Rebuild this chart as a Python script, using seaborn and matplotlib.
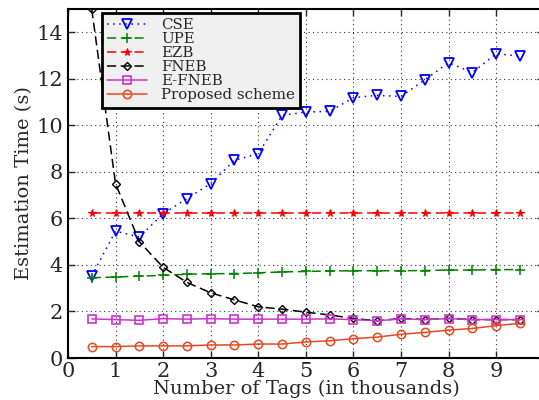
import matplotlib
matplotlib.use("Agg")
import matplotlib.pyplot as plt
import seaborn as sns
import pandas as pd

# ── Data ──────────────────────────────────────────────────────────────────────
tags = [0.5, 1.0, 1.5, 2.0, 2.5, 3.0, 3.5, 4.0, 4.5, 5.0,
        5.5, 6.0, 6.5, 7.0, 7.5, 8.0, 8.5, 9.0, 9.5]

cse = [3.53, 5.45, 5.2, 6.2, 6.85, 7.5, 8.5, 8.78, 10.43, 10.57,
       10.6, 11.19, 11.29, 11.24, 11.96, 12.69, 12.27, 13.08, 12.97]
upe = [3.45, 3.48, 3.52, 3.55, 3.6, 3.62, 3.63, 3.66, 3.7, 3.72,
       3.74, 3.75, 3.75, 3.75, 3.76, 3.78, 3.78, 3.8, 3.8]
ezb = [6.22] * 19
fneb = [15.0, 7.5, 5.0, 3.9, 3.25, 2.8, 2.5, 2.2, 2.1, 1.97,
        1.85, 1.7, 1.6, 1.7, 1.65, 1.7, 1.65, 1.65, 1.65]
efneb = [1.68, 1.65, 1.62, 1.69, 1.67, 1.69, 1.67, 1.67, 1.67, 1.67,
         1.68, 1.65, 1.6, 1.68, 1.65, 1.69, 1.65, 1.65, 1.65]
proposed = [0.49, 0.49, 0.52, 0.52, 0.52, 0.56, 0.56, 0.6, 0.6, 0.69,
            0.74, 0.83, 0.9, 1.02, 1.1, 1.2, 1.27, 1.39, 1.49]

series_names = ["CSE", "UPE", "EZB", "FNEB", "E-FNEB", "Proposed scheme"]
series_values = [cse, upe, ezb, fneb, efneb, proposed]

x_ticks = list(range(0, 10))
y_ticks = list(range(0, 15, 2))

# ── Styles ────────────────────────────────────────────────────────────────────
STYLES = {
    "CSE":    dict(color="#0000ff", linestyle=(0, (1, 3)), marker="v",
                   markersize=6.5, markerfacecolor="none", markeredgewidth=1.3),
    "UPE":    dict(color="#008000", linestyle=(0, (6, 3)), marker="+",
                   markersize=7, markerfacecolor="none", markeredgewidth=1.1),
    "EZB":    dict(color="#ff0000", linestyle=(0, (6, 3)), marker="*",
                   markersize=5.5, markerfacecolor="#ff0000", markeredgewidth=0.8),
    "FNEB":   dict(color="#000000", linestyle=(0, (6, 3)), marker="D",
                   markersize=4.5, markerfacecolor="none", markeredgewidth=1.0),
    "E-FNEB": dict(color="#cc33cc", linestyle="-", marker="s",
                   markersize=6, markerfacecolor="none", markeredgewidth=1.2),
    "Proposed scheme": dict(color="#e84820", linestyle="-", marker="o",
                            markersize=6, markerfacecolor="none", markeredgewidth=1.1),
}

sns.set_style("ticks")
plt.rcParams["font.family"] = ["DejaVu Serif"]
plt.rcParams["font.size"] = 14

fig = plt.figure(figsize=(5.39, 4.0), dpi=100)
ax = fig.add_axes([0.126, 0.105, 0.883, 0.8725])

for name, vals in zip(series_names, series_values):
    st = dict(STYLES[name])
    df = pd.DataFrame({"tags": tags, "time": vals})
    sns.lineplot(data=df, x="tags", y="time", ax=ax, label=name,
                 linewidth=1.1, markeredgecolor=st["color"], **st)

ax.set_xlim(0, 10)
ax.set_ylim(0, 15)
ax.set_xticks(x_ticks)
ax.set_yticks(y_ticks)
ax.grid(True, linestyle=(0, (1, 3)), color="black", linewidth=0.8, alpha=0.8)
ax.tick_params(direction="in", top=True, right=True, length=5, labelsize=15,
               width=1)
ax.tick_params(axis="x", pad=3)
for sp in ax.spines.values():
    sp.set_linewidth(1.5)
    sp.set_color("black")

ax.set_xlabel("Number of Tags (in thousands)", fontsize=14, labelpad=-1)
ax.set_ylabel("Estimation Time (s)", fontsize=14, labelpad=2)

leg = ax.legend(loc="upper left", bbox_to_anchor=(0.071, 0.988), fontsize=10.8,
                frameon=True, fancybox=False, borderpad=0.35, labelspacing=0.0,
                handlelength=2.7, handletextpad=0.9, borderaxespad=0)
leg.get_frame().set_facecolor("#f0f0f0")
leg.get_frame().set_edgecolor("black")
leg.get_frame().set_linewidth(2.0)
leg.get_frame().set_alpha(1.0)

fig.savefig("out.png", dpi=100)
